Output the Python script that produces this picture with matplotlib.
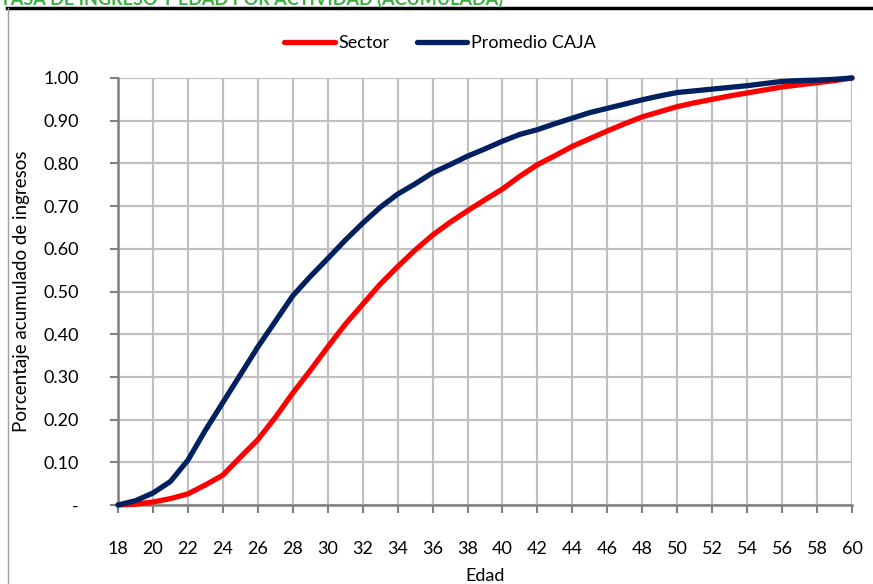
import matplotlib
matplotlib.use("Agg")
import matplotlib.pyplot as plt
from matplotlib.lines import Line2D

plt.rcParams['font.family'] = ['Lato', 'DejaVu Sans']

edad = list(range(18, 61))
sector = [0.0, 0.002, 0.007, 0.015, 0.026, 0.047, 0.07, 0.112, 0.153, 0.205,
          0.262, 0.315, 0.37, 0.423, 0.47, 0.517, 0.558, 0.597, 0.632, 0.662,
          0.689, 0.715, 0.74, 0.77, 0.797, 0.818, 0.84, 0.858, 0.876, 0.893,
          0.909, 0.921, 0.933, 0.942, 0.95, 0.958, 0.965, 0.972, 0.979, 0.984,
          0.989, 0.994, 1.0]
caja = [0.0, 0.01, 0.028, 0.055, 0.105, 0.175, 0.24, 0.305, 0.37, 0.43,
        0.49, 0.535, 0.577, 0.62, 0.66, 0.697, 0.728, 0.752, 0.778, 0.797,
        0.817, 0.834, 0.852, 0.868, 0.879, 0.893, 0.906, 0.919, 0.929, 0.939,
        0.949, 0.958, 0.966, 0.97, 0.974, 0.978, 0.982, 0.987, 0.992, 0.994,
        0.995, 0.997, 1.0]
xticks = list(range(18, 61, 2))
yticks = [0.0, 0.1, 0.2, 0.3, 0.4, 0.5, 0.6, 0.7, 0.8, 0.9, 1.0]
ylabels = ["-", "0.10", "0.20", "0.30", "0.40", "0.50", "0.60", "0.70", "0.80", "0.90", "1.00"]

W, H = 873, 584
fig = plt.figure(figsize=(W / 100, H / 100), dpi=100)
ax = fig.add_axes([118 / W, (H - 505) / H, (852 - 118) / W, (505 - 78) / H])

# chart frame pieces
fig.add_artist(Line2D([7 / W, 1], [1 - 8 / H, 1 - 8 / H], transform=fig.transFigure,
                      color='black', lw=2.5))
fig.add_artist(Line2D([8 / W, 8 / W], [0, 1 - 8 / H], transform=fig.transFigure,
                      color='#a0a0a0', lw=1))
fig.text(0.0, 1 - 5 / H, "TASA DE INGRESO Y EDAD POR ACTIVIDAD (ACUMULADA)",
         color='#3cb03c', fontsize=13, fontweight='bold', ha='left', va='baseline')

ax.plot(edad, sector, color='#ff0000', lw=3.8, clip_on=False, zorder=3, label='Sector',
        solid_capstyle='round')
ax.plot(edad, caja, color='#002060', lw=3.8, clip_on=False, zorder=4, label='Promedio CAJA',
        solid_capstyle='round')

ax.set_xlim(18, 60)
ax.set_ylim(0, 1)
ax.set_xticks(xticks)
ax.set_yticks(yticks)
ax.set_yticklabels(ylabels)
ax.grid(True, color='#c0c0c0', lw=1.6)
ax.set_axisbelow(True)
for s in ['top', 'right']:
    ax.spines[s].set_visible(False)
for s in ['left', 'bottom']:
    ax.spines[s].set_color('#808080')
    ax.spines[s].set_linewidth(1.8)
ax.tick_params(axis='both', colors='#808080', width=1.5, length=6, labelcolor='black',
               labelsize=13)
ax.tick_params(axis='x', pad=20)
ax.tick_params(axis='y', pad=22)
ax.set_xlabel("Edad", fontsize=13, labelpad=8)
ax.set_ylabel("Porcentaje acumulado de ingresos", fontsize=13.5, labelpad=10)

leg = ax.legend(loc='center', bbox_to_anchor=(440 / W, 1 - 43 / H), bbox_transform=fig.transFigure,
                ncol=2, frameon=False, fontsize=13, handlelength=2.8, handletextpad=0.2,
                columnspacing=1.5)

fig.savefig("out.png", dpi=100)
